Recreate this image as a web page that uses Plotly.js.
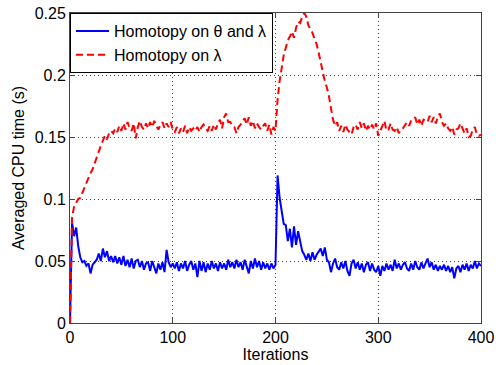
<!DOCTYPE html>
<html>
<head>
<meta charset="utf-8">
<script src="https://cdn.plot.ly/plotly-3.0.1.min.js"></script>
<style>html,body{margin:0;padding:0;background:#fff;}#chart{width:496px;height:365px;}</style>
</head>
<body>
<div id="chart"></div>
<script>
// Iteration indices (every 2nd iteration, 0..400)
const iterStep = 2;
const iterMax = 400;

// Homotopy on theta and lambda (blue)
const blueValues = [
0.0,0.081,0.070,0.077,0.062,0.053,0.049,0.050,0.046,0.048,0.040,0.047,0.049,0.051,0.056,0.050,0.060,0.053,0.058,0.050,
0.054,0.049,0.054,0.048,0.053,0.047,0.054,0.046,0.051,0.045,0.052,0.044,0.050,0.051,0.045,0.050,0.043,0.048,0.049,0.042,
0.050,0.044,0.040,0.048,0.043,0.049,0.041,0.059,0.049,0.045,0.048,
0.044,0.049,0.042,0.048,0.044,0.050,0.042,0.047,0.050,0.043,0.048,0.037,0.050,0.042,0.049,0.041,0.048,0.043,0.050,0.044,
0.048,0.042,0.049,0.044,0.048,0.043,0.051,0.045,0.049,0.044,0.051,0.045,0.049,0.043,0.051,0.046,0.040,0.050,0.044,0.052,
0.045,0.050,0.043,0.049,0.044,0.048,0.043,0.048,0.044,0.047,
0.119,0.101,0.092,0.080,0.079,0.066,0.076,0.061,0.078,0.063,0.074,0.065,0.058,0.055,0.051,0.056,0.050,0.057,0.051,0.055,
0.058,0.060,0.054,0.061,0.051,0.049,0.041,0.048,0.052,0.045,0.043,0.049,0.044,0.050,0.042,0.038,0.048,0.051,0.044,0.049,
0.043,0.048,0.041,0.047,0.049,0.042,0.048,0.043,0.041,0.046,
0.038,0.046,0.042,0.048,0.043,0.047,0.042,0.051,0.044,0.048,0.043,0.047,0.049,0.044,0.042,0.048,0.043,0.050,0.045,0.043,
0.049,0.044,0.048,0.052,0.045,0.049,0.043,0.047,0.042,0.046,0.043,0.047,0.042,0.046,0.041,0.045,0.036,0.044,0.046,0.041,
0.047,0.043,0.048,0.042,0.047,0.044,0.050,0.044,0.048,0.046
];

// Homotopy on lambda (red dashed)
const redValues = [
0.0,0.085,0.094,0.097,0.100,0.101,0.105,0.109,0.113,0.118,0.121,0.124,0.129,0.133,0.138,0.143,0.147,0.151,0.148,0.153,
0.155,0.153,0.157,0.154,0.159,0.155,0.161,0.156,0.162,0.157,0.155,0.161,0.149,0.158,0.163,0.158,0.156,0.161,0.157,0.162,
0.158,0.163,0.159,0.156,0.160,0.162,0.157,0.161,0.158,0.162,0.156,
0.154,0.158,0.153,0.157,0.154,0.159,0.153,0.158,0.155,0.157,0.155,0.158,0.154,0.158,0.160,0.157,0.155,0.159,0.155,0.160,
0.156,0.161,0.164,0.157,0.166,0.169,0.162,0.162,0.159,0.158,0.153,0.158,0.160,0.163,0.165,0.160,0.166,0.159,0.163,0.157,
0.161,0.158,0.156,0.159,0.161,0.155,0.160,0.152,0.158,0.155,
0.180,0.195,0.206,0.216,0.222,0.228,0.231,0.235,0.230,0.238,0.243,0.242,0.247,0.250,0.247,0.240,0.237,0.234,0.229,0.225,
0.218,0.210,0.202,0.195,0.190,0.183,0.173,0.164,0.159,0.162,0.155,0.159,0.154,0.160,0.156,0.154,0.152,0.158,0.160,0.156,
0.162,0.157,0.161,0.155,0.159,0.156,0.160,0.156,0.161,0.151,
0.155,0.158,0.163,0.155,0.156,0.161,0.156,0.155,0.158,0.153,0.156,0.157,0.160,0.162,0.159,0.163,0.164,0.166,0.160,0.164,
0.159,0.164,0.163,0.162,0.167,0.162,0.166,0.161,0.166,0.169,0.162,0.159,0.161,0.157,0.155,0.158,0.152,0.156,0.157,0.161,
0.157,0.153,0.157,0.150,0.151,0.156,0.158,0.152,0.151,0.152
];

const seriesNames = ['Homotopy on \u03b8 and \u03bb', 'Homotopy on \u03bb'];
const xTickVals = [0, 100, 200, 300, 400];
const yTickVals = [0, 0.05, 0.1, 0.15, 0.2, 0.25];

const iterations = [];
for (let i = 0; i <= iterMax; i += iterStep) iterations.push(i);

const font = {family: 'Liberation Sans, Arial, sans-serif', size: 16, color: '#000'};

const traces = [
  {x: iterations, y: blueValues, type: 'scatter', mode: 'lines', name: seriesNames[0],
   line: {color: '#0000ff', width: 2}},
  {x: iterations, y: redValues, type: 'scatter', mode: 'lines', name: seriesNames[1],
   line: {color: '#ff0000', width: 2, dash: '7px,4px'}}
];

const axisCommon = {
  showline: true, linecolor: '#444', linewidth: 1, mirror: 'allticks',
  ticks: 'inside', ticklen: 5, tickcolor: '#444', tickwidth: 1,
  showgrid: true, gridcolor: '#444', griddash: '1px,3px', gridwidth: 1,
  zeroline: false, tickfont: font
};

const layout = {
  width: 496, height: 365,
  margin: {l: 70, r: 15, t: 13, b: 42},
  paper_bgcolor: '#fff', plot_bgcolor: '#fff',
  font: font,
  showlegend: true,
  legend: {x: 0, y: 1, xanchor: 'left', yanchor: 'top', bgcolor: '#fff',
           bordercolor: '#000', borderwidth: 1, font: font, tracegroupgap: 0,
           itemwidth: 33},
  xaxis: Object.assign({}, axisCommon, {range: [0, 400], tickvals: xTickVals,
           title: {text: 'Iterations', font: font, standoff: 2}}),
  yaxis: Object.assign({}, axisCommon, {range: [0, 0.25], tickvals: yTickVals,
           title: {text: 'Averaged CPU time (s)', font: font, standoff: 6}})
};

Plotly.newPlot('chart', traces, layout, {displayModeBar: false, staticPlot: true});
</script>
</body>
</html>
